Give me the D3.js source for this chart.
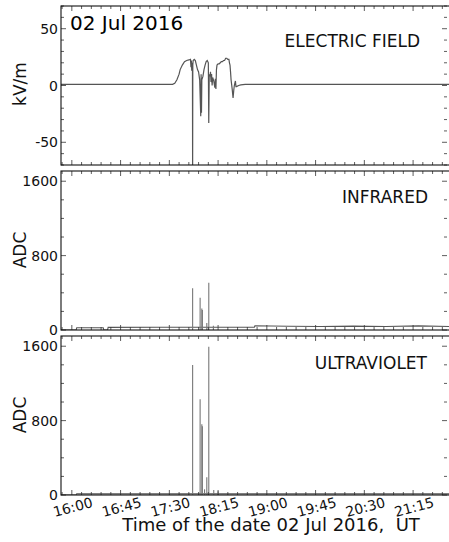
<!DOCTYPE html>
<html><head><meta charset="utf-8">
<script src="https://cdn.jsdelivr.net/npm/d3@7"></script>
<style>html,body{margin:0;padding:0;background:#fff;}svg{display:block;}</style>
</head><body>
<script>
// ---------- data ----------
const dateLabel = "02 Jul 2016";
const xTitle = "Time of the date 02 Jul 2016,  UT";
const xDomain = ["15:50:00", "21:50:00"];
const xTickLabels = ["16:00","16:45","17:30","18:15","19:00","19:45","20:30","21:15"];

const efTitle = "ELECTRIC FIELD";
const efYLabel = "kV/m";
const efTicks = [-50, 0, 50];
const efTimes = ["15:50:00","16:30:00","17:00:00","17:33:00","17:35:00","17:37:00","17:39:00","17:40:00","17:42:00","17:44:00","17:46:00","17:48:00","17:49:30","17:50:00","17:50:20","17:50:40","17:51:20","17:51:30","17:51:40","17:52:00","17:53:00","17:54:00","17:55:00","17:56:00","17:57:00","17:58:00","17:59:00","17:59:20","17:59:40","18:00:00","18:01:00","18:02:00","18:03:00","18:04:00","18:05:00","18:06:00","18:06:24","18:06:50","18:07:30","18:08:00","18:08:30","18:09:00","18:09:30","18:10:00","18:11:00","18:12:00","18:12:30","18:13:00","18:13:30","18:14:00","18:15:00","18:16:00","18:17:00","18:18:00","18:19:00","18:20:00","18:21:00","18:22:00","18:23:00","18:24:00","18:25:00","18:25:30","18:26:00","18:26:30","18:27:00","18:28:00","18:28:50","18:29:30","18:30:00","18:30:30","18:31:00","18:31:30","18:32:00","18:34:00","18:36:00","18:40:00","19:30:00","20:30:00","21:50:00"];
const efValues = [1,1,1,1,2,5,10,14,18,21,22,22.5,23,16,22,13,20,-75,18,22,23,22,18,14,12,5,-27,10,-24,5,8,14,18,21,22,20,-33,10,8,12,3,10,0,7,4,-2,6,-3,14,18,19,19,20,21,21,22,22,24,24,23,23,20,18,12,5,-3,-11,-4,0,2,4,-1,-1,0,0.5,1,1,1,1];

const adcTicks = [0, 800, 1600];
const irTitle = "INFRARED";
const irBaseTimes = ["15:50:00","16:04:00","16:04:30","16:29:00","16:29:30","16:33:00","16:33:30","17:20:00","18:00:00","18:48:30","18:49:00","19:20:00","19:50:00","20:20:00","20:50:00","21:20:00","21:50:00"];
const irBaseValues = [0,0,25,25,0,0,28,30,30,30,45,40,38,42,38,44,38];
const irSpikeTimes = ["17:51:30","17:58:25","18:00:00","18:00:30","18:04:35","18:06:25","18:10:40"];
const irSpikeValues = [450,347,230,215,75,509,46];

const uvTitle = "ULTRAVIOLET";
const uvBaseTimes = ["15:50:00","16:04:00","16:04:30","21:50:00"];
const uvBaseValues = [0,0,12,12];
const uvSpikeTimes = ["17:51:30","17:58:25","18:00:00","18:00:30","18:02:30","18:04:35","18:06:25","18:11:00","18:15:00"];
const uvSpikeValues = [1398,1029,760,740,61,190,1595,54,40];

// ---------- layout ----------
const W = 449, H = 542;
const left = 61, right = 451;
const panels = [{top:6,bottom:165},{top:171,bottom:330},{top:336,bottom:495}];
const font = "DejaVu Sans, sans-serif";
const lineCol = "#555";

const parse = d3.timeParse("%H:%M:%S");
const parseHM = d3.timeParse("%H:%M");
const x = d3.scaleTime().domain(xDomain.map(parse)).range([left, right]);

const svg = d3.select("body").append("svg").attr("width", W).attr("height", H)
  .style("font-family", font);

const defs = svg.append("defs");
panels.forEach((p,i)=>{
  defs.append("clipPath").attr("id","clip"+i).append("rect")
    .attr("x",left).attr("y",p.top).attr("width",right-left).attr("height",p.bottom-p.top);
});

const xMajor = xTickLabels.map(parseHM);
const xMinor = [];
{
  const step = 9*60*1000;
  const t0 = xMajor[0].getTime();
  const [d0,d1] = x.domain().map(d=>d.getTime());
  for (let t=t0; t>=d0; t-=step) xMinor.push(new Date(t));
  for (let t=t0+step; t<=d1; t+=step) xMinor.push(new Date(t));
}

function frame(i, y, yMajor, yMinor, yFmt){
  const p = panels[i];
  const g = svg.append("g");
  xMinor.forEach(t=>{
    const isMajor = xMajor.some(m=>m.getTime()===t.getTime());
    const len = isMajor ? 5 : 3;
    g.append("line").attr("x1",x(t)).attr("x2",x(t)).attr("y1",p.bottom).attr("y2",p.bottom-len)
      .attr("stroke","#333").attr("stroke-width",0.8);
    g.append("line").attr("x1",x(t)).attr("x2",x(t)).attr("y1",p.top).attr("y2",p.top+len)
      .attr("stroke","#333").attr("stroke-width",0.8);
  });
  yMinor.forEach(v=>{
    const isMajor = yMajor.includes(v);
    const len = isMajor ? 5 : 3;
    g.append("line").attr("x1",left).attr("x2",left+len).attr("y1",y(v)).attr("y2",y(v))
      .attr("stroke","#333").attr("stroke-width",0.8);
    g.append("line").attr("x1",right-4-len).attr("x2",right-4).attr("y1",y(v)).attr("y2",y(v))
      .attr("stroke","#333").attr("stroke-width",0.8);
  });
  yMajor.forEach(v=>{
    g.append("text").attr("x",left-3).attr("y",y(v)).attr("text-anchor","end")
      .attr("dominant-baseline","central").attr("font-size",14).attr("fill","#111").text(yFmt(v));
  });
  g.append("rect").attr("x",left).attr("y",p.top).attr("width",right-left).attr("height",p.bottom-p.top)
    .attr("fill","none").attr("stroke","#111").attr("stroke-width",1.1);
}

// ---------- panel 1: electric field ----------
const yEF = d3.scaleLinear().domain([-70,70]).range([panels[0].bottom, panels[0].top]);
const efData = efTimes.map((t,i)=>({t:parse(t), v:efValues[i]}));
svg.append("path").datum(efData).attr("clip-path","url(#clip0)")
  .attr("fill","none").attr("stroke",lineCol).attr("stroke-width",1.2)
  .attr("d", d3.line().x(d=>x(d.t)).y(d=>yEF(d.v)));
frame(0, yEF, efTicks, d3.range(-70,71,10), d=>String(d));

// ---------- panels 2,3 ----------
function adcPanel(i, baseT, baseV, spT, spV){
  const p = panels[i];
  const y = d3.scaleLinear().domain([0,1710]).range([p.bottom, p.top]);
  const base = baseT.map((t,k)=>({t:parse(t), v:baseV[k]}));
  const g = svg.append("g").attr("clip-path",`url(#clip${i})`);
  g.append("path").datum(base).attr("fill","none").attr("stroke",lineCol).attr("stroke-width",1.1)
    .attr("d", d3.line().x(d=>x(d.t)).y(d=>y(d.v)));
  spT.forEach((t,k)=>{
    const tt = parse(t);
    g.append("line").attr("x1",x(tt)).attr("x2",x(tt)).attr("y1",y(0)).attr("y2",y(spV[k]))
      .attr("stroke","#777").attr("stroke-width",1.1);
  });
  frame(i, y, adcTicks, d3.range(0,1701,200), d=>String(d));
  return y;
}
adcPanel(1, irBaseTimes, irBaseValues, irSpikeTimes, irSpikeValues);
adcPanel(2, uvBaseTimes, uvBaseValues, uvSpikeTimes, uvSpikeValues);

// ---------- texts ----------
svg.append("text").attr("x",70).attr("y",30).attr("font-size",20).attr("fill","#000").text(dateLabel);
svg.append("text").attr("x",420).attr("y",47).attr("text-anchor","end").attr("font-size",17).attr("fill","#111").text(efTitle);
svg.append("text").attr("x",428).attr("y",203).attr("text-anchor","end").attr("font-size",17).attr("fill","#111").text(irTitle);
svg.append("text").attr("x",427).attr("y",369).attr("text-anchor","end").attr("font-size",17).attr("fill","#111").text(uvTitle);

const yLabels = [[efYLabel,84],["ADC",250],["ADC",415]];
yLabels.forEach(([t,cy])=>{
  svg.append("text").attr("transform",`translate(20,${cy}) rotate(-90)`).attr("text-anchor","middle")
    .attr("dominant-baseline","central").attr("font-size",17).attr("fill","#111").text(t);
});

xMajor.forEach((t,k)=>{
  svg.append("text").attr("transform",`translate(${x(t)+1},${507}) rotate(-15)`).attr("text-anchor","middle")
    .attr("dominant-baseline","central").attr("font-size",14).attr("fill","#111").text(xTickLabels[k]);
});
svg.append("text").attr("x",271).attr("y",531).attr("text-anchor","middle").attr("font-size",18)
  .attr("fill","#111").style("white-space","pre").attr("xml:space","preserve").text(xTitle);
</script>
</body></html>
